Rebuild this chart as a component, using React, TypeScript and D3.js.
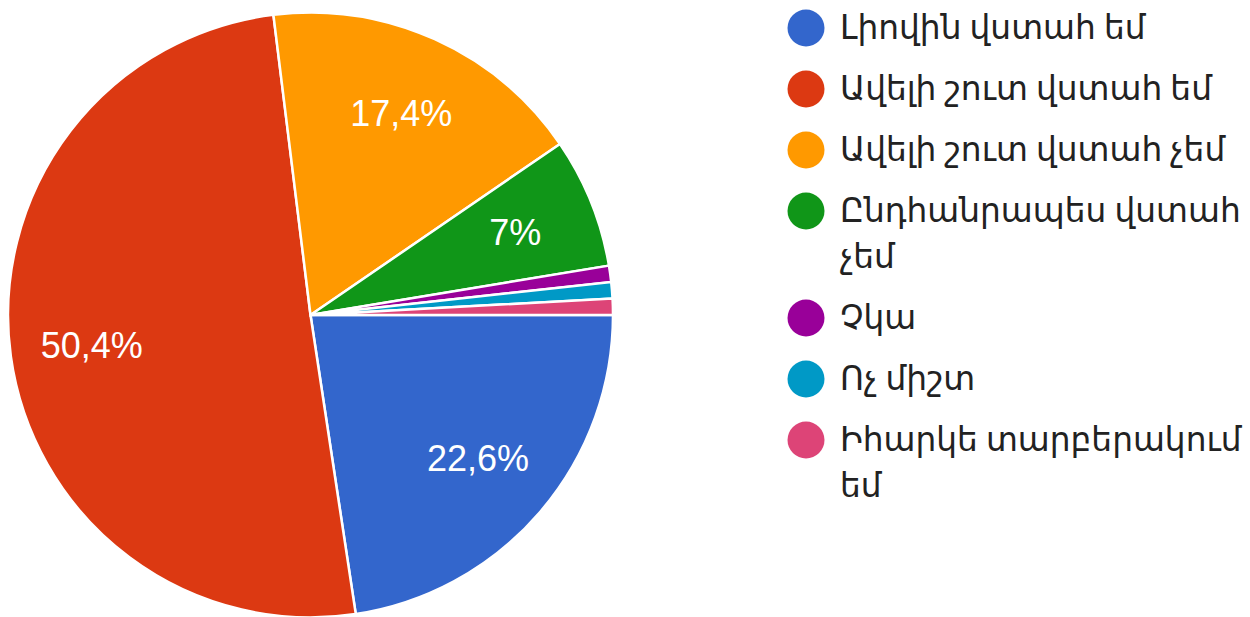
import React, { useEffect, useRef, useState } from "react";
import * as d3 from "d3";

const categories: string[] = [
  "Լիովին վստահ եմ",
  "Ավելի շուտ վստահ եմ",
  "Ավելի շուտ վստահ չեմ",
  "Ընդհանրապես վստահ չեմ",
  "Չկա",
  "Ոչ միշտ",
  "Իհարկե տարբերակում եմ",
];
const counts: number[] = [26, 58, 20, 8, 1, 1, 1];
const colors: string[] = ["#3366cc", "#dc3912", "#ff9900", "#109618", "#990099", "#0099c6", "#dd4477"];

const W = 1250;
const H = 617;
const CX = 310.5;
const CY = 315;
const R = 302.5;
const LEGEND_X = 806;
const LEGEND_TEXT_X = 840;
const LEGEND_MAX_W = 405;
const FONT = "Roboto, 'DejaVu Sans', sans-serif";
const LEG_FS = 32.8;

function formatPct(v: number): string {
  const p = Math.round(v * 1000) / 10;
  return (Number.isInteger(p) ? p.toFixed(0) : p.toFixed(1)).replace(".", ",") + "%";
}

export default function App() {
  const measureRef = useRef<SVGTextElement | null>(null);
  const [lines, setLines] = useState<string[][]>(categories.map((c) => [c]));

  useEffect(() => {
    const el = measureRef.current;
    if (!el) return;
    const measure = (s: string) => {
      el.textContent = s;
      return el.getComputedTextLength();
    };
    const out = categories.map((c) => {
      const words = c.split(" ");
      const ls: string[] = [];
      let cur = "";
      words.forEach((w) => {
        const t = cur ? cur + " " + w : w;
        if (cur && measure(t) > LEGEND_MAX_W) {
          ls.push(cur);
          cur = w;
        } else cur = t;
      });
      if (cur) ls.push(cur);
      return ls;
    });
    el.textContent = "";
    setLines(out);
  }, []);

  const total = d3.sum(counts);
  const pie = d3
    .pie<number>()
    .sort(null)
    .value((d) => d)
    .startAngle(Math.PI / 2)
    .endAngle(Math.PI / 2 + 2 * Math.PI);
  const arcs = pie(counts);
  const arc = d3.arc<d3.PieArcDatum<number>>().innerRadius(0).outerRadius(R);
  const labelArc = d3.arc<d3.PieArcDatum<number>>().innerRadius(R * 0.73).outerRadius(R * 0.73);

  const rowGap = 61;
  const lineGap = 46;
  let y = 28;
  const legendRows = lines.map((ls, i) => {
    const row = { y, ls, i };
    y += rowGap + (ls.length - 1) * lineGap;
    return row;
  });

  return (
    <svg
      width={W}
      height={H}
      style={{ position: "absolute", left: 0, top: 0, display: "block", background: "#fff" }}
    >
      <g transform={`translate(${CX},${CY})`}>
        {arcs.map((a, i) => (
          <path key={i} d={arc(a) || ""} fill={colors[i]} stroke="#fff" strokeWidth={2.5} />
        ))}
        {arcs.map((a, i) => {
          const frac = counts[i] / total;
          if (frac < 0.05) return null;
          const [x, yy] = labelArc.centroid(a);
          return (
            <text
              key={"l" + i}
              x={x}
              y={yy}
              textAnchor="middle"
              dominantBaseline="central"
              fill="#fff"
              fontFamily="Arial, 'Liberation Sans', sans-serif"
              fontSize={36}
            >
              {formatPct(frac)}
            </text>
          );
        })}
      </g>
      <g>
        {legendRows.map((r) => (
          <g key={r.i}>
            <circle cx={LEGEND_X} cy={r.y} r={18.5} fill={colors[r.i]} />
            {r.ls.map((l, j) => (
              <text
                key={j}
                x={LEGEND_TEXT_X}
                y={r.y + j * lineGap}
                dominantBaseline="central"
                fill="#222"
                fontFamily={FONT}
                fontSize={LEG_FS}
              >
                {l}
              </text>
            ))}
          </g>
        ))}
        <text ref={measureRef} fontFamily={FONT} fontSize={LEG_FS} x={-1000} y={-1000} />
      </g>
    </svg>
  );
}
